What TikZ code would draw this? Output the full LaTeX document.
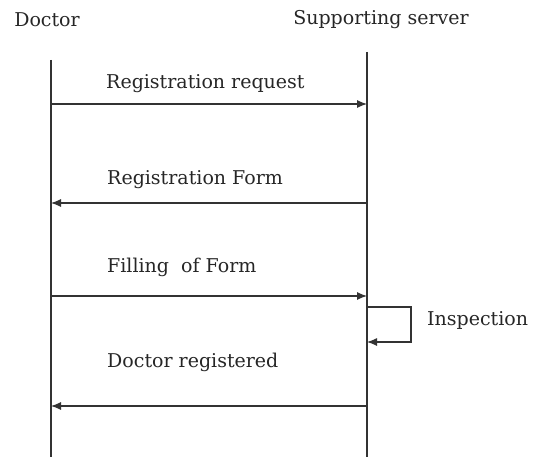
\documentclass[tikz,border=0pt]{standalone}
\usepackage{fontspec}
\setmainfont{DejaVu Serif}
\usepackage{tikz}
\usetikzlibrary{arrows.meta}

\begin{document}
\begin{tikzpicture}[x=1pt,y=-1pt,font=\fontsize{19}{22}\selectfont,
    line/.style={line width=1.1pt,draw=black!80},
    call/.style={line,-{Latex[length=10pt,width=8pt]}},
    msg/.style={anchor=west,inner sep=0pt,text=black!85}]
      \useasboundingbox (0,0) rectangle (543,457);

      \node[text=black!85] (doc) at (47,20) {Doctor};
      \node[text=black!85] (srv) at (381,20) {Supporting server};

      \coordinate (d0) at (51,60);
      \coordinate (d1) at (51,457);
      \coordinate (s0) at (367,52);
      \coordinate (s1) at (367,457);
      \draw[line] (d0) -- (d1);
      \draw[line] (s0) -- (s1);

      \coordinate (d2) at (51,104);
      \coordinate (s2) at (367,104);
      \coordinate (d3) at (51,203);
      \coordinate (s3) at (367,203);
      \coordinate (d4) at (51,296);
      \coordinate (s4) at (367,296);
      \coordinate (d5) at (51,406);
      \coordinate (s5) at (367,406);
      \coordinate (i0) at (367,307);
      \coordinate (i1) at (411,307);
      \coordinate (i2) at (411,342);
      \coordinate (i3) at (367,342);

      \node[msg] (m1) at (106,84) {Registration request};
      \node[msg] (m2) at (107,180) {Registration Form};
      \node[msg] (m3) at (107,267) {Filling\ \ of Form};
      \node[msg] (m4) at (107,362) {Doctor registered};
      \node[msg] (m5) at (427,320) {Inspection};

      \draw[call] (d2) -- (s2);
      \draw[call] (s3) -- (d3);
      \draw[call] (d4) -- (s4);
      \draw[call] (i0) -- (i1) -- (i2) -- (i3);
      \draw[call] (s5) -- (d5);
    \end{tikzpicture}
\end{document}
